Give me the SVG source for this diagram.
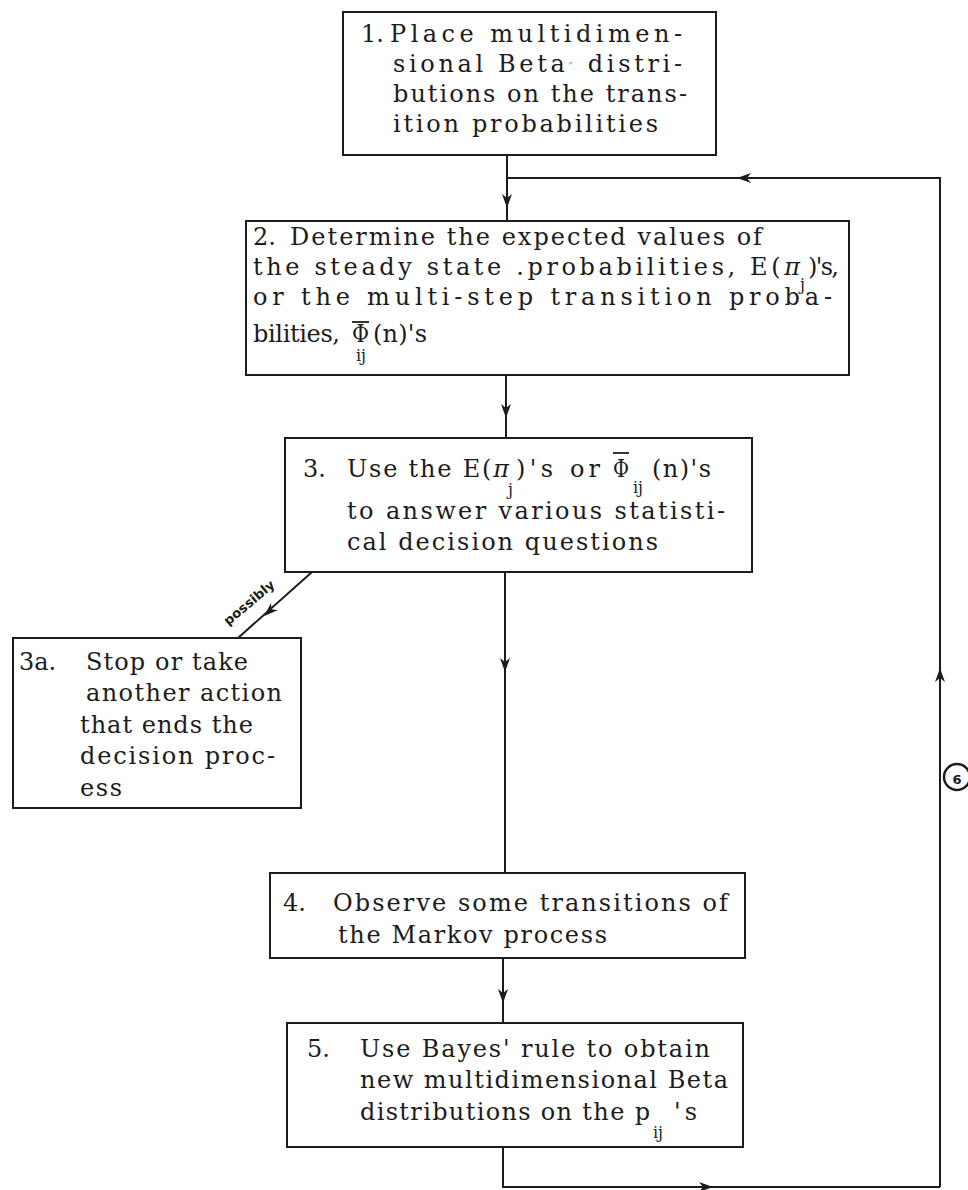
<svg xmlns="http://www.w3.org/2000/svg" width="968" height="1190" viewBox="0 0 968 1190">
  <defs>
    <style>
      .box{fill:none;stroke:#1c1c1c;stroke-width:2}
      .t{font-family:"DejaVu Serif","Liberation Serif",serif;font-size:24px;fill:#1c1c1c}
      .sub{font-family:"DejaVu Serif","Liberation Serif",serif;font-size:16px;fill:#1c1c1c}
      .it{font-style:italic}
      .wire{fill:none;stroke:#1c1c1c;stroke-width:2}
      .bar{stroke:#1c1c1c;stroke-width:1.8}
      .hand{font-family:"DejaVu Sans","Liberation Sans",sans-serif;font-size:13px;font-weight:bold;fill:#1c1c1c}
      .speck{fill:#9a9a9a;font-size:12px}
    </style>
    <!-- arrowhead, tip at origin, pointing down -->
    <path id="ah" d="M0,0 L-5,-14 L0,-10 L5,-14 Z" fill="#1c1c1c"/>
  </defs>
  <rect width="968" height="1190" fill="#ffffff"/>

  <!-- connectors -->
  <g id="connectors">
    <path class="wire" d="M507,155 V221"/>
    <path class="wire" d="M940,1187 V178 H507"/>
    <path class="wire" d="M506,375 V438"/>
    <path class="wire" d="M505,572 V873"/>
    <path class="wire" d="M503,958 V1023"/>
    <path class="wire" d="M503,1147 V1187 H940"/>
    <path class="wire" d="M312,572 L238,638"/>
    <use href="#ah" transform="translate(507,208)"/>
    <use href="#ah" transform="translate(737,178) rotate(90)"/>
    <use href="#ah" transform="translate(506,418)"/>
    <use href="#ah" transform="translate(505,672)"/>
    <use href="#ah" transform="translate(503,1003)"/>
    <use href="#ah" transform="translate(713,1187) rotate(-90)"/>
    <use href="#ah" transform="translate(940,668) rotate(180)"/>
    <use href="#ah" transform="translate(264,616) rotate(48)"/>
    <text class="hand" transform="translate(252,606) rotate(-40)" text-anchor="middle" textLength="62" lengthAdjust="spacingAndGlyphs">possibly</text>
    <circle cx="957" cy="777" r="13" fill="none" stroke="#1c1c1c" stroke-width="2.4"/>
    <text class="hand" x="957" y="784" text-anchor="middle" font-size="19">6</text>
  </g>

  <!-- step 1 -->
  <g id="step1">
    <rect class="box" x="343" y="12" width="373" height="143"/>
    <text class="t" x="361" y="42">1.</text>
    <text class="t" x="390" y="42" textLength="292" lengthAdjust="spacing">Place multidimen-</text>
    <text class="t" x="393" y="72" textLength="289" lengthAdjust="spacing">sional Beta<tspan class="speck">″</tspan> distri-</text>
    <text class="t" x="393" y="102" textLength="294" lengthAdjust="spacing">butions on the trans-</text>
    <text class="t" x="393" y="132" textLength="265" lengthAdjust="spacing">ition probabilities</text>
  </g>

  <!-- step 2 -->
  <g id="step2">
    <rect class="box" x="246" y="221" width="603" height="154"/>
    <text class="t" x="253" y="245">2.</text>
    <text class="t" x="290" y="245" textLength="472" lengthAdjust="spacing">Determine the expected values of</text>
    <text class="t" x="253" y="275" textLength="547" lengthAdjust="spacing">the steady state .probabilities, E(<tspan class="it">π</tspan></text>
    <text class="sub" x="800" y="290" font-size="14">j</text>
    <text class="t" x="808" y="275" textLength="31" lengthAdjust="spacing">)'s,</text>
    <text class="t" x="253" y="305" textLength="579" lengthAdjust="spacing">or the multi-step transition proba-</text>
    <text class="t" x="253" y="342" textLength="87" lengthAdjust="spacing">bilities,</text>
    <line class="bar" x1="352" y1="322" x2="369" y2="322"/>
    <text class="t" x="352" y="342" textLength="17" lengthAdjust="spacingAndGlyphs">Φ</text>
    <text class="sub" x="356" y="361">ij</text>
    <text class="t" x="373" y="342" textLength="54" lengthAdjust="spacing">(n)'s</text>
  </g>

  <!-- step 3 -->
  <g id="step3">
    <rect class="box" x="285" y="438" width="467" height="134"/>
    <text class="t" x="303" y="477">3.</text>
    <text class="t" x="347" y="477" textLength="162" lengthAdjust="spacing">Use the E(<tspan class="it">π</tspan></text>
    <text class="sub" x="508" y="495">j</text>
    <text class="t" x="516" y="477" textLength="37" lengthAdjust="spacing">)'s</text>
    <text class="t" x="570" y="477" textLength="30" lengthAdjust="spacing">or</text>
    <line class="bar" x1="613" y1="453" x2="629" y2="453"/>
    <text class="t" x="613" y="477" textLength="16" lengthAdjust="spacingAndGlyphs">Φ</text>
    <text class="sub" x="633" y="493">ij</text>
    <text class="t" x="652" y="477" textLength="59" lengthAdjust="spacing">(n)'s</text>
    <text class="t" x="347" y="519" textLength="378" lengthAdjust="spacing">to answer various statisti-</text>
    <text class="t" x="347" y="550" textLength="311" lengthAdjust="spacing">cal decision questions</text>
  </g>

  <!-- step 3a -->
  <g id="step3a">
    <rect class="box" x="13" y="638" width="288" height="170"/>
    <text class="t" x="19" y="670">3a.</text>
    <text class="t" x="86" y="670" textLength="162" lengthAdjust="spacing">Stop or take</text>
    <text class="t" x="86" y="701" textLength="196" lengthAdjust="spacing">another action</text>
    <text class="t" x="80" y="733" textLength="173" lengthAdjust="spacing">that ends the</text>
    <text class="t" x="80" y="764" textLength="195" lengthAdjust="spacing">decision proc-</text>
    <text class="t" x="80" y="796" textLength="42" lengthAdjust="spacing">ess</text>
  </g>

  <!-- step 4 -->
  <g id="step4">
    <rect class="box" x="270" y="873" width="475" height="85"/>
    <text class="t" x="283" y="911">4.</text>
    <text class="t" x="333" y="911" textLength="395" lengthAdjust="spacing">Observe some transitions of</text>
    <text class="t" x="338" y="943" textLength="269" lengthAdjust="spacing">the Markov process</text>
  </g>

  <!-- step 5 -->
  <g id="step5">
    <rect class="box" x="287" y="1023" width="456" height="124"/>
    <text class="t" x="307" y="1057">5.</text>
    <text class="t" x="360" y="1057" textLength="350" lengthAdjust="spacing">Use Bayes' rule to obtain</text>
    <text class="t" x="360" y="1088" textLength="368" lengthAdjust="spacing">new multidimensional Beta</text>
    <text class="t" x="360" y="1120" textLength="290" lengthAdjust="spacing">distributions on the p</text>
    <text class="sub" x="653" y="1138">ij</text>
    <text class="t" x="674" y="1120" textLength="23" lengthAdjust="spacing">'s</text>
  </g>
</svg>
